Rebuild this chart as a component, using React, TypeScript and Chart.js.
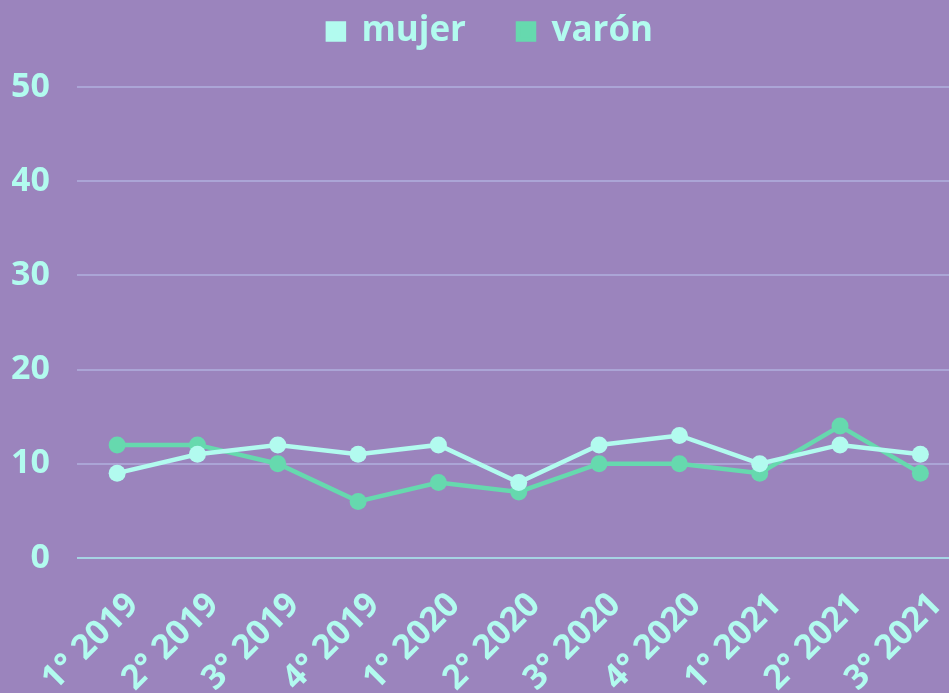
import React, { useEffect, useRef } from "react";
import { Chart, registerables } from "chart.js";

Chart.register(...registerables);

const categories = ["1° 2019", "2° 2019", "3° 2019", "4° 2019", "1° 2020", "2° 2020", "3° 2020", "4° 2020", "1° 2021", "2° 2021", "3° 2021"];
const mujer = [9, 11, 12, 11, 12, 8, 12, 13, 10, 12, 11];
const varon = [12, 12, 10, 6, 8, 7, 10, 10, 9, 14, 9];
const seriesNames = ["mujer", "varón"];
const yMin = 0;
const yMax = 50;
const yStep = 10;

const BG = "#9b84bd";
const TEXT = "#b2fbef";
const C_MUJER = "#b2fbef";
const C_VARON = "#66d9ae";
const FAMILY = "'Open Sans', 'Noto Sans', sans-serif";
const FONT = { family: FAMILY, size: 34, weight: "bold" as const };
const LEGEND_FONT = { family: FAMILY, size: 35, weight: "bold" as const };

export default function App() {
  const ref = useRef<HTMLCanvasElement | null>(null);
  useEffect(() => {
    document.body.style.margin = "0";
    document.body.style.overflow = "hidden";
    const chart = new Chart(ref.current!, {
      type: "line",
      data: {
        labels: categories,
        datasets: [
          {
            label: seriesNames[0],
            data: mujer,
            borderColor: C_MUJER,
            backgroundColor: C_MUJER,
            borderWidth: 4.5,
            pointRadius: 8.5,
            pointBorderWidth: 0,
            tension: 0,
          },
          {
            label: seriesNames[1],
            data: varon,
            borderColor: C_VARON,
            backgroundColor: C_VARON,
            borderWidth: 4.5,
            pointRadius: 8.5,
            pointBorderWidth: 0,
            tension: 0,
          },
        ],
      },
      options: {
        animation: false,
        responsive: true,
        maintainAspectRatio: false,
        layout: { padding: { top: -38, left: 12, right: 0, bottom: 0 } },
        plugins: {
          legend: {
            display: true,
            position: "top",
            labels: {
              color: TEXT,
              font: LEGEND_FONT,
              boxWidth: 16,
              boxHeight: 16,
              padding: 52,
            },
          },
          title: {
            display: true,
            text: "",
            weight: 500,
            font: { size: 1 },
            padding: { top: 0, bottom: 27 },
          },
          tooltip: { enabled: false },
        },
        scales: {
          x: {
            offset: true,
            grid: { display: false },
            border: { display: false },
            ticks: { color: TEXT, font: FONT, minRotation: 45, maxRotation: 45, padding: 19, labelOffset: 16 },
          },
          y: {
            min: yMin,
            max: yMax,
            afterFit: (s: any) => { s.width = 65; },
            grid: {
              drawTicks: false,
              lineWidth: 2,
              color: (c: any) => (c.tick && c.tick.value === 0 ? "#a6d3e3" : "#aba5d6"),
            },
            border: { display: false },
            ticks: { stepSize: yStep, color: TEXT, font: FONT, padding: 27 },
          },
        },
      },
    });
    return () => chart.destroy();
  }, []);
  return (
    <div style={{ position: "fixed", left: 0, top: 0, width: 949, height: 693, overflow: "hidden", background: BG }}>
      <div style={{ position: "absolute", left: 0, top: 0, width: 969, height: 718 }}>
        <canvas ref={ref} />
      </div>
    </div>
  );
}
